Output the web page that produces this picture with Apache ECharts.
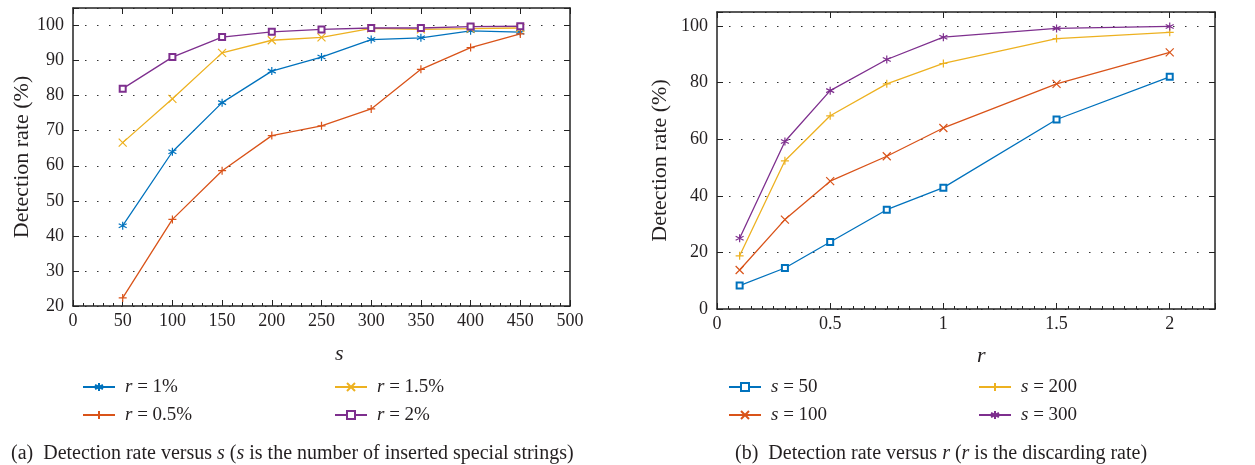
<!DOCTYPE html>
<html>
<head>
<meta charset="utf-8">
<script src="https://cdn.jsdelivr.net/npm/echarts@6/dist/echarts.min.js"></script>
<style>
  html, body { margin: 0; padding: 0; background: #fff; }
  #chart { width: 1255px; height: 465px; }
</style>
</head>
<body>
<div id="chart"></div>
<script>
// (a) detection rate vs s
var sValues = [50, 100, 150, 200, 250, 300, 350, 400, 450]
var rate_r1 = [42.9, 64.0, 78.0, 87.0, 91.0, 96.0, 96.5, 98.5, 98.1]
var rate_r05 = [22.3, 44.7, 58.6, 68.6, 71.4, 76.2, 87.5, 93.7, 97.6]
var rate_r15 = [66.6, 79.1, 92.2, 95.8, 96.6, 99.2, 98.9, 99.1, 99.3]
var rate_r2 = [82.0, 91.0, 96.7, 98.2, 98.9, 99.3, 99.3, 99.7, 99.8]

// (b) detection rate vs r
var rValues = [0.1, 0.3, 0.5, 0.75, 1, 1.5, 2]
var rate_s50 = [8.3, 14.5, 23.7, 35.1, 42.9, 67.0, 82.1]
var rate_s100 = [13.8, 31.6, 45.2, 54.0, 64.0, 79.6, 90.7]
var rate_s200 = [18.8, 52.4, 68.3, 79.6, 86.8, 95.6, 97.8]
var rate_s300 = [25.0, 59.2, 77.2, 88.2, 96.1, 99.2, 99.9]

var FONT = 'Liberation Serif'
var INK = '#231f20'
var BLUE = '#0072BD', ORANGE = '#D95319', YELLOW = '#EDB120', PURPLE = '#7E2F8E'

// 线条型的标记
var STAR = 'path://M0,-10L0,10M-8.7,-5L8.7,5M-8.7,5L8.7,-5'
var PLUS = 'path://M0,-10L0,10M-10,0L10,0'
var CROSS = 'path://M-10,-10L10,10M-10,10L10,-10'

function pairs(xs, ys) {
  return xs.map(function (x, i) { return [x, ys[i]] })
}

function makeSeries(name, xs, ys, color, symbol, idx) {
  var empty = symbol === 'emptyRect'
  return {
    name: name,
    type: 'line',
    xAxisIndex: idx,
    yAxisIndex: idx,
    data: pairs(xs, ys),
    symbol: symbol,
    symbolSize: empty ? 6 : 8,
    showAllSymbol: true,
    lineStyle: { color: color, width: 1.3 },
    itemStyle: { color: color, borderColor: color, borderWidth: 1.2 },
    emphasis: { disabled: true },
    animation: false
  }
}

var tickStyle = { color: '#222', width: 1 }
var labelStyle = { fontFamily: FONT, fontSize: 18, color: INK }
var lineStyleAxis = { color: '#222', width: 1.5 }

function mainX(idx, max, interval, minorSplit, fmt) {
  return {
    type: 'value', gridIndex: idx, min: 0, max: max, interval: interval,
    axisLine: { show: true, onZero: false, lineStyle: lineStyleAxis },
    axisTick: { show: true, inside: true, length: 6, lineStyle: tickStyle },
    minorTick: { show: true, splitNumber: minorSplit, length: 3, lineStyle: tickStyle },
    axisLabel: Object.assign({ margin: 6, formatter: fmt }, labelStyle),
    splitLine: { show: false }
  }
}

function topX(idx, max, interval) {
  return {
    type: 'value', gridIndex: idx, position: 'top', min: 0, max: max, interval: interval,
    axisLine: { show: true, onZero: false, lineStyle: lineStyleAxis },
    axisTick: { show: true, inside: true, length: 6, lineStyle: tickStyle },
    axisLabel: { show: false },
    splitLine: { show: false }
  }
}

function mainY(idx, min, interval, nameGap) {
  return {
    type: 'value', gridIndex: idx, min: min, max: 105, interval: interval,
    name: 'Detection rate (%)', nameLocation: 'middle', nameGap: nameGap,
    nameTextStyle: { fontFamily: FONT, fontSize: 22, color: INK },
    axisLine: { show: true, onZero: false, lineStyle: lineStyleAxis },
    axisTick: { show: true, inside: true, length: 6, lineStyle: tickStyle },
    axisLabel: Object.assign({
      margin: 9,
      formatter: function (v) { return v > 100 ? '' : v }
    }, labelStyle),
    splitLine: {
      show: true,
      lineStyle: { color: '#333', width: 1.2, type: [1.5, 10.5] }
    }
  }
}

function rightY(idx, min, interval) {
  return {
    type: 'value', gridIndex: idx, position: 'right', min: min, max: 105, interval: interval,
    axisLine: { show: true, onZero: false, lineStyle: lineStyleAxis },
    axisTick: { show: true, inside: true, length: 6, lineStyle: tickStyle },
    axisLabel: { show: false },
    splitLine: { show: false }
  }
}

function legendFmt(name) {
  return name.replace(/^([rs])/, '{i|$1}')
}

function makeLegend(left, names) {
  return {
    left: left, top: 372, orient: 'vertical',
    itemWidth: 32, itemHeight: 10, itemGap: 8,
    selectedMode: false,
    data: names,
    formatter: legendFmt,
    textStyle: {
      fontFamily: FONT, fontSize: 19, lineHeight: 20, color: INK, padding: [0, 0, 0, 5],
      rich: { i: { fontFamily: FONT, fontSize: 19, lineHeight: 20, fontStyle: 'italic', color: INK } }
    }
  }
}

var richCaption = {
  i: { fontFamily: FONT, fontSize: 20, fontStyle: 'italic', color: INK }
}

var option = {
  backgroundColor: '#fff',
  textStyle: { fontFamily: FONT },
  grid: [
    { left: 73, top: 8, width: 497, height: 298 },
    { left: 717, top: 12, width: 498, height: 297 }
  ],
  xAxis: [
    mainX(0, 500, 50, 5, function (v) { return v }),
    mainX(1, 2.2, 0.5, 10, function (v) { return v > 2 ? '' : v }),
    topX(0, 500, 50),
    topX(1, 2.2, 0.5)
  ],
  yAxis: [
    mainY(0, 20, 10, 40),
    mainY(1, 0, 20, 46),
    rightY(0, 20, 10),
    rightY(1, 0, 20)
  ],
  legend: [
    makeLegend(77, ['r = 1%', 'r = 0.5%']),
    makeLegend(329, ['r = 1.5%', 'r = 2%']),
    makeLegend(723, ['s = 50', 's = 100']),
    makeLegend(973, ['s = 200', 's = 300'])
  ],
  title: [
    {
      left: 6, top: 439,
      text: '(a)  Detection rate versus {i|s} ({i|s} is the number of inserted special strings)',
      textStyle: { fontFamily: FONT, fontSize: 20, fontWeight: 'normal', color: INK, rich: richCaption }
    },
    {
      left: 730, top: 439,
      text: '(b)  Detection rate versus {i|r} ({i|r} is the discarding rate)',
      textStyle: { fontFamily: FONT, fontSize: 20, fontWeight: 'normal', color: INK, rich: richCaption }
    }
  ],
  graphic: [
    {
      type: 'text', left: 335, top: 343,
      style: { text: 's', font: 'italic 22px "Liberation Serif"', fill: INK }
    },
    {
      type: 'text', left: 977, top: 345,
      style: { text: 'r', font: 'italic 22px "Liberation Serif"', fill: INK }
    }
  ],
  series: [
    makeSeries('r = 1%', sValues, rate_r1, BLUE, STAR, 0),
    makeSeries('r = 0.5%', sValues, rate_r05, ORANGE, PLUS, 0),
    makeSeries('r = 1.5%', sValues, rate_r15, YELLOW, CROSS, 0),
    makeSeries('r = 2%', sValues, rate_r2, PURPLE, 'emptyRect', 0),
    makeSeries('s = 50', rValues, rate_s50, BLUE, 'emptyRect', 1),
    makeSeries('s = 100', rValues, rate_s100, ORANGE, CROSS, 1),
    makeSeries('s = 200', rValues, rate_s200, YELLOW, PLUS, 1),
    makeSeries('s = 300', rValues, rate_s300, PURPLE, STAR, 1)
  ]
}

var myChart = echarts.init(document.getElementById('chart'), null, { renderer: 'canvas' })
myChart.setOption(option)
</script>
</body>
</html>
